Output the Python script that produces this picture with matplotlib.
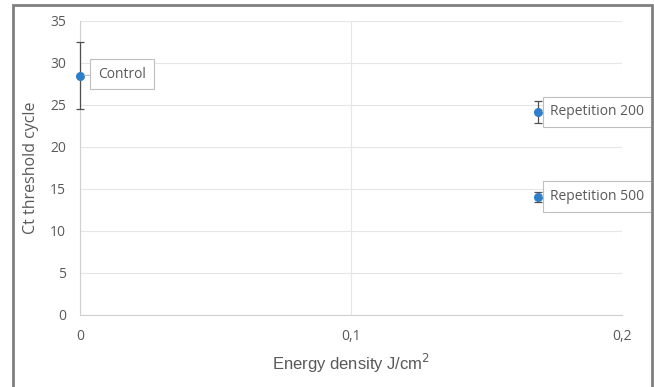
import matplotlib.pyplot as plt
from matplotlib.patches import Rectangle

# Ct values per treatment
labels = ["Control", "Repetition 200", "Repetition 500"]
energy = [0.0, 0.169, 0.169]
ct = [28.5, 24.2, 14.1]
ct_err = [4.0, 1.3, 0.6]

grey = "#595959"
blue = "#2E7FC9"

fig = plt.figure(figsize=(6.54, 3.87), dpi=100)
ax = fig.add_axes([80 / 654, 1 - 315 / 387, 542 / 654, 294 / 387])

# outer chart frame
fig.patches.append(Rectangle((13 / 654, -0.05), 639 / 654, 1 - 5 / 387 + 0.05,
                             transform=fig.transFigure, fill=False,
                             ec="#7f7f7f", lw=2))

ax.errorbar(energy, ct, yerr=ct_err, fmt="o", color=blue, ms=5.5,
            ecolor="#505050", elinewidth=0.9, capsize=3, capthick=0.9,
            zorder=5, clip_on=False)

# data labels in boxes with a short leader line
offsets = [(13, 1), (9, 0), (9, 0)]
for x, y, name, off in zip(energy, ct, labels, offsets):
    ax.annotate(name, (x, y), xytext=off, textcoords="offset points",
                ha="left", va="center", fontsize=10, family="Open Sans",
                color=grey,
                bbox=dict(boxstyle="square,pad=0.55", fc="white",
                          ec="#bfbfbf", lw=0.8),
                arrowprops=dict(arrowstyle="-", color="#bfbfbf", lw=0.8,
                                shrinkA=0, shrinkB=3),
                zorder=6, annotation_clip=False)

ax.set_xlim(0, 0.2)
ax.set_ylim(0, 35)
ax.set_xticks([0, 0.1, 0.2])
ax.set_xticklabels(["0", "0,1", "0,2"])
ax.set_yticks(range(0, 36, 5))
ax.grid(True, color="#e6e6e6", lw=0.8)
ax.set_axisbelow(True)

for side in ["top", "right"]:
    ax.spines[side].set_visible(False)
for side in ["left", "bottom"]:
    ax.spines[side].set_color("#d0d0d0")
ax.tick_params(length=0, pad=10, labelsize=10, colors=grey)
for t in ax.get_xticklabels() + ax.get_yticklabels():
    t.set_family("Open Sans")

ax.set_xlabel("Energy density J/cm$^2$", fontsize=12, color=grey,
              family="Liberation Sans", labelpad=6)
ax.set_ylabel("Ct threshold cycle", fontsize=11.5, color=grey,
              family="Open Sans", labelpad=8)

fig.savefig("out.png", dpi=100)
